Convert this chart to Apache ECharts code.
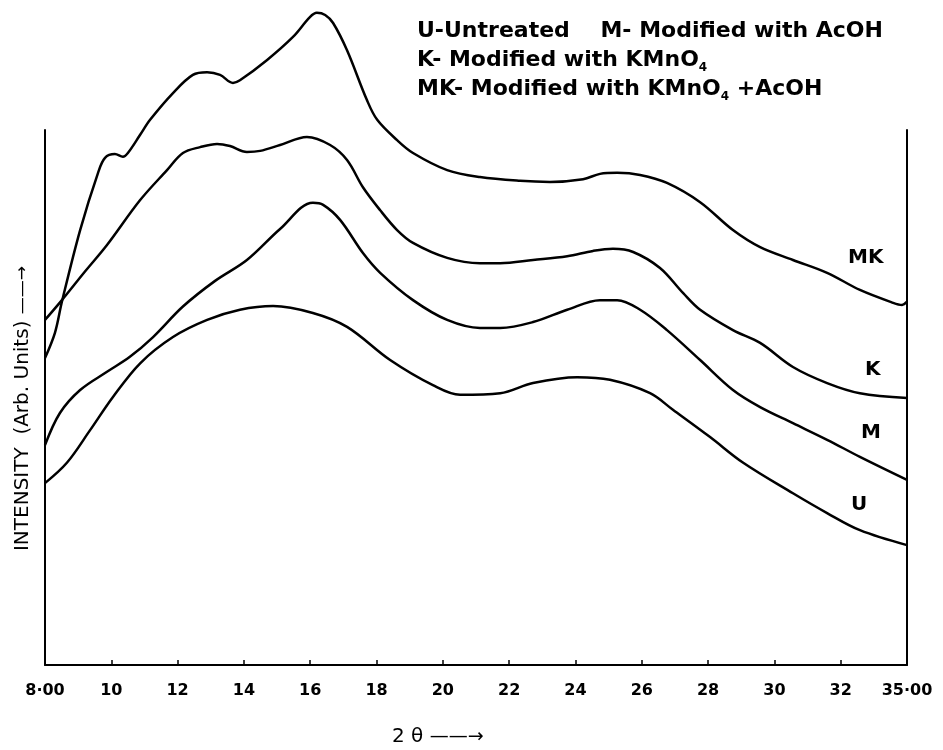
<!DOCTYPE html>
<html>
<head>
<meta charset="utf-8">
<script src="https://cdn.jsdelivr.net/npm/echarts@6/dist/echarts.min.js"></script>
<style>
  html, body { margin: 0; padding: 0; background: #fff; }
  #chart { width: 943px; height: 750px; }
</style>
</head>
<body>
<div id="chart"></div>
<script>
// tick labels, one per 2 degrees from 8 (the last one is printed as 35.00)
const tickLabels = ['8·00', '10', '12', '14', '16', '18', '20', '22', '24', '26', '28', '30', '32', '35·00'];

// MK - modified with KMnO4 + AcOH
const mkTheta = [8.0, 8.3, 8.51, 9.06, 9.6, 9.81, 10.11, 10.35, 10.5, 10.87, 11.17, 11.86, 12.46, 12.89, 13.28, 13.67, 13.88, 14.7, 15.48, 15.99, 16.2, 16.45, 16.69, 17.11, 17.71, 18.02, 18.62, 19.1, 20.13, 21.12, 22.33, 23.23, 24.23, 24.74, 25.26, 25.95, 26.76, 27.76, 28.75, 29.57, 30.56, 31.59, 32.58, 33.58, 33.85, 34.0];
const mkIntensity = [57.4, 62.1, 67.9, 81.3, 92.0, 94.8, 95.5, 95.0, 95.7, 99.1, 101.9, 106.9, 110.3, 110.8, 110.3, 108.8, 109.3, 113.1, 117.4, 121.1, 121.9, 121.5, 120.0, 114.9, 105.6, 101.9, 98.1, 95.7, 92.5, 91.2, 90.5, 90.3, 90.8, 91.8, 92.0, 91.6, 90.1, 86.5, 81.3, 78.1, 75.7, 73.3, 70.1, 67.7, 67.3, 67.9];

// K - modified with KMnO4
const kTheta = [8.0, 8.51, 9.2, 9.87, 10.87, 11.68, 12.16, 12.68, 13.19, 13.58, 14.09, 14.49, 15.09, 15.9, 16.6, 17.11, 17.59, 18.11, 18.62, 19.1, 20.13, 21.12, 21.73, 22.72, 23.75, 24.53, 25.13, 25.74, 26.55, 27.25, 27.76, 28.75, 29.57, 30.56, 31.59, 32.58, 34.0];
const kIntensity = [64.5, 68.2, 73.5, 78.5, 86.9, 92.5, 95.7, 96.8, 97.4, 97.0, 95.9, 96.1, 97.2, 98.7, 97.2, 94.4, 89.3, 85.0, 81.3, 78.9, 76.1, 75.1, 75.1, 75.7, 76.4, 77.4, 77.8, 77.2, 74.2, 69.5, 66.4, 62.6, 60.2, 55.7, 52.7, 50.8, 49.9];

// M - modified with AcOH
const mTheta = [8.0, 8.45, 9.06, 9.87, 10.56, 11.26, 12.16, 13.13, 14.09, 15.09, 16.08, 16.39, 16.9, 17.59, 18.11, 19.1, 20.13, 21.12, 21.73, 22.72, 23.75, 24.74, 25.26, 25.95, 26.76, 27.76, 28.75, 29.57, 30.56, 31.59, 32.58, 34.0];
const mIntensity = [41.1, 47.1, 51.4, 54.8, 57.6, 61.3, 67.0, 71.8, 75.7, 81.5, 86.4, 86.0, 83.2, 77.0, 73.3, 68.2, 64.5, 63.0, 63.0, 64.1, 66.4, 68.2, 68.2, 66.4, 62.6, 57.0, 51.4, 48.2, 45.2, 42.1, 38.9, 34.6];

// U - untreated
const uTheta = [8.0, 8.66, 9.36, 10.05, 10.87, 11.86, 12.89, 13.88, 14.88, 16.08, 17.11, 18.41, 19.7, 20.52, 21.73, 22.72, 24.05, 25.04, 26.25, 26.94, 28.06, 29.06, 30.56, 31.59, 32.58, 34.0];
const uIntensity = [34.0, 37.8, 43.9, 50.1, 56.4, 61.3, 64.5, 66.4, 67.1, 65.8, 63.2, 57.0, 52.3, 50.5, 50.8, 52.7, 53.8, 53.3, 50.8, 47.7, 42.6, 37.8, 32.1, 28.4, 25.2, 22.4];

function pairs(xs, ys) {
  return xs.map((x, i) => [x, ys[i]]);
}

function curve(name, xs, ys) {
  return {
    name: name,
    type: 'line',
    data: pairs(xs, ys),
    smooth: 0.35,
    showSymbol: false,
    clip: false,
    lineStyle: { color: '#000', width: 2.5 },
    itemStyle: { color: '#000' }
  };
}

let chartDom = document.getElementById('chart');
let myChart = echarts.init(chartDom);

const boldFont = 'bold 20px "DejaVu Sans"';

let option = {
  backgroundColor: '#fff',
  animation: false,
  grid: { left: 45, right: 36, top: 130, bottom: 85 },
  xAxis: {
    type: 'value',
    min: 8,
    max: 34,
    interval: 2,
    splitLine: { show: false },
    axisLine: { lineStyle: { color: '#000', width: 2 } },
    axisTick: { inside: true, length: 5, lineStyle: { color: '#000', width: 1.5 } },
    axisLabel: {
      margin: 18,
      color: '#000',
      fontFamily: 'DejaVu Sans',
      fontWeight: 'bold',
      fontSize: 16,
      formatter: v => tickLabels[Math.round((v - 8) / 2)] || ''
    }
  },
  yAxis: [
    {
      type: 'value',
      min: 0,
      max: 100,
      position: 'left',
      splitLine: { show: false },
      axisTick: { show: false },
      axisLabel: { show: false },
      axisLine: { show: true, lineStyle: { color: '#000', width: 2 } },
      name: 'INTENSITY  (Arb. Units) {arr|——→}',
      nameLocation: 'middle',
      nameGap: 12,
      nameTextStyle: {
        color: '#000',
        fontFamily: 'DejaVu Sans',
        fontSize: 20,
        padding: [0, 22, 0, 0],
        rich: { arr: { fontSize: 17, fontFamily: 'DejaVu Sans', color: '#000' } }
      }
    },
    {
      type: 'value',
      min: 0,
      max: 100,
      position: 'right',
      splitLine: { show: false },
      axisTick: { show: false },
      axisLabel: { show: false },
      axisLine: { show: true, lineStyle: { color: '#000', width: 2 } }
    }
  ],
  graphic: [
    {
      type: 'text',
      left: 417,
      top: 17,
      style: {
        text: 'U-Untreated    M- Modified with AcOH\nK- Modified with KMnO{sub|4}\nMK- Modified with KMnO{sub|4} +AcOH',
        fill: '#000',
        font: 'bold 22px "DejaVu Sans"',
        lineHeight: 29,
        rich: {
          sub: { fontSize: 12, fontWeight: 'bold', fontFamily: 'DejaVu Sans', fill: '#000', padding: [15, 0, 0, 0] }
        }
      }
    },
    { type: 'text', left: 848, top: 248, style: { text: 'MK', fill: '#000', font: boldFont } },
    { type: 'text', left: 865, top: 360, style: { text: 'K', fill: '#000', font: boldFont } },
    { type: 'text', left: 861, top: 423, style: { text: 'M', fill: '#000', font: boldFont } },
    { type: 'text', left: 851, top: 495, style: { text: 'U', fill: '#000', font: boldFont } },
    {
      type: 'text',
      left: 392,
      top: 727,
      style: {
        text: '2 θ {arr|——→}',
        fill: '#000',
        font: '20px "DejaVu Sans"',
        rich: { arr: { fontSize: 19, fontFamily: 'DejaVu Sans', fill: '#000' } }
      }
    }
  ],
  series: [
    curve('MK', mkTheta, mkIntensity),
    curve('K', kTheta, kIntensity),
    curve('M', mTheta, mIntensity),
    curve('U', uTheta, uIntensity)
  ]
};

option && myChart.setOption(option);
</script>
</body>
</html>
